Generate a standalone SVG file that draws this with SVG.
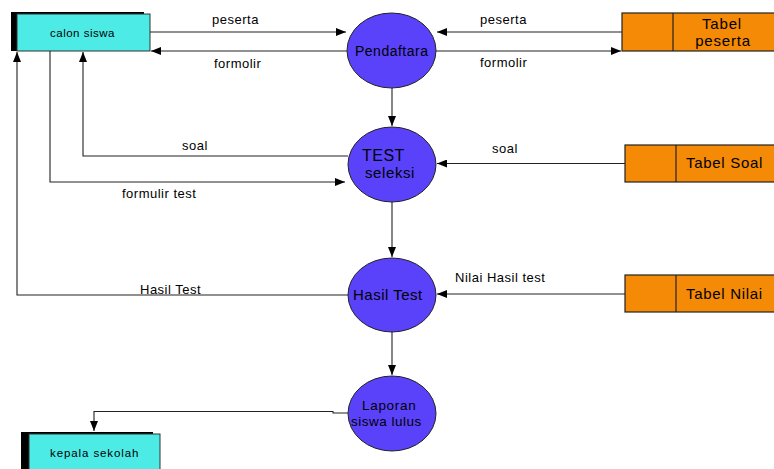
<svg xmlns="http://www.w3.org/2000/svg" width="774" height="469" viewBox="0 0 774 469">
<defs>
<marker id="ah" markerWidth="10" markerHeight="8" refX="10" refY="4" orient="auto" markerUnits="userSpaceOnUse">
<path d="M0,0 L10,4 L0,8 Z" fill="#000"/>
</marker>
<clipPath id="pclip"><rect x="351" y="0" width="78" height="469"/></clipPath>
<style>
.ext{fill:#4debe6;stroke:#333;stroke-width:1}
.shadow{fill:#000}
.proc{fill:#5a42fa;stroke:#222;stroke-width:1}
.store{fill:#f48a06;stroke:#222;stroke-width:1.2}
.t{font-family:"Liberation Sans",Arial,sans-serif;fill:#000}
.ln{fill:none;stroke:#222;stroke-width:1.1}
.lbl{font-family:"Liberation Sans",Arial,sans-serif;font-size:13px;letter-spacing:0.5px;fill:#000}
</style>
</defs>
<rect width="774" height="469" fill="#fff"/>

<g id="calon-siswa">
<rect class="shadow" x="11" y="12" width="133" height="39"/>
<rect class="ext" x="17" y="14" width="133" height="37"/>
<text class="t" x="50" y="37" font-size="11.5" letter-spacing="0.5">calon siswa</text>
</g>

<g id="kepala-sekolah">
<rect class="shadow" x="21" y="432" width="132" height="40"/>
<rect class="ext" x="29" y="434" width="131" height="40"/>
<text class="t" x="50" y="457" font-size="11.5" letter-spacing="0.9">kepala sekolah</text>
</g>

<g id="pendaftaran">
<ellipse class="proc" cx="391.5" cy="50.5" rx="44.5" ry="37.5"/>
<text class="t" x="355" y="56" font-size="14" letter-spacing="0.5" clip-path="url(#pclip)">Pendaftaran</text>
</g>

<g id="test-seleksi">
<ellipse class="proc" cx="392" cy="164.5" rx="44" ry="37.5"/>
<text class="t" x="362" y="161" font-size="16" letter-spacing="0.5">TEST</text>
<text class="t" x="365" y="178" font-size="15" letter-spacing="0.6" clip-path="url(#pclip)">seleksi</text>
</g>

<g id="hasil-test">
<ellipse class="proc" cx="392" cy="295" rx="44" ry="37"/>
<text class="t" x="353" y="300" font-size="15" letter-spacing="0.5" clip-path="url(#pclip)">Hasil Test</text>
</g>

<g id="laporan">
<ellipse class="proc" cx="392" cy="413.5" rx="44" ry="37.5"/>
<text class="t" x="362" y="410" font-size="13.5" letter-spacing="0.7">Laporan</text>
<text class="t" x="351" y="426" font-size="13.5" letter-spacing="0.5" clip-path="url(#pclip)">siswa lulus</text>
</g>

<g id="tabel-peserta">
<rect class="store" x="622" y="13" width="160" height="38"/>
<line x1="673" y1="13" x2="673" y2="51" stroke="#222" stroke-width="1.2"/>
<text class="t" x="722" y="29" font-size="15" letter-spacing="0.8" text-anchor="middle">Tabel</text>
<text class="t" x="723" y="46" font-size="15" letter-spacing="0.8" text-anchor="middle">peserta</text>
</g>

<g id="tabel-soal">
<rect class="store" x="625" y="145" width="160" height="37"/>
<line x1="676" y1="145" x2="676" y2="182" stroke="#222" stroke-width="1.2"/>
<text class="t" x="686" y="168" font-size="15" letter-spacing="0.7">Tabel Soal</text>
</g>

<g id="tabel-nilai">
<rect class="store" x="625" y="275" width="160" height="37"/>
<line x1="676" y1="275" x2="676" y2="312" stroke="#222" stroke-width="1.2"/>
<text class="t" x="686" y="299" font-size="15" letter-spacing="0.7">Tabel Nilai</text>
</g>

<g id="connectors">
<line class="ln" x1="150" y1="32" x2="346" y2="32" marker-end="url(#ah)"/>
<text class="lbl" x="212" y="24">peserta</text>
<line class="ln" x1="347" y1="51" x2="151" y2="51" marker-end="url(#ah)"/>
<text class="lbl" x="214" y="68">formolir</text>
<line class="ln" x1="622" y1="32" x2="437" y2="32" marker-end="url(#ah)"/>
<text class="lbl" x="480" y="24">peserta</text>
<line class="ln" x1="436" y1="51" x2="621" y2="51" marker-end="url(#ah)"/>
<text class="lbl" x="480" y="67">formolir</text>

<line class="ln" x1="392" y1="88" x2="392" y2="126" marker-end="url(#ah)"/>
<polyline class="ln" points="348,156 83,156 83,52" marker-end="url(#ah)"/>
<text class="lbl" x="182" y="150">soal</text>
<polyline class="ln" points="50,51 50,182 345,182" marker-end="url(#ah)"/>
<text class="lbl" x="122" y="198">formulir test</text>
<line class="ln" x1="625" y1="163.5" x2="437" y2="163.5" marker-end="url(#ah)"/>
<text class="lbl" x="492" y="153">soal</text>

<line class="ln" x1="392" y1="202" x2="392" y2="257" marker-end="url(#ah)"/>
<polyline class="ln" points="348,295 17,295 17,52" marker-end="url(#ah)"/>
<text class="lbl" x="140" y="294">Hasil Test</text>
<line class="ln" x1="625" y1="294" x2="437" y2="294" marker-end="url(#ah)"/>
<text class="lbl" x="455" y="282">Nilai Hasil test</text>

<line class="ln" x1="392" y1="332" x2="392" y2="375" marker-end="url(#ah)"/>
<polyline class="ln" points="348,413 333,413 333,411.5 94,411.5 94,431" marker-end="url(#ah)"/>
</g>
</svg>
